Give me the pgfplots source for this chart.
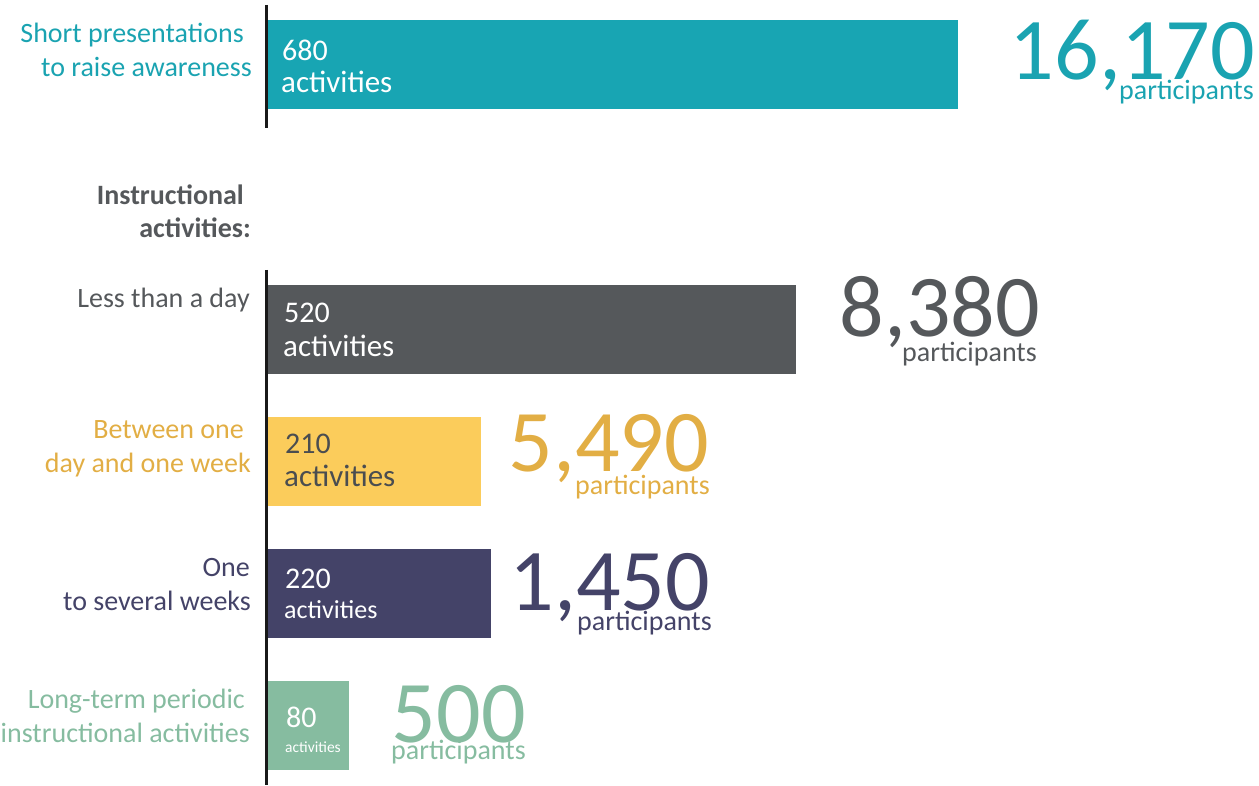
\documentclass[border=0pt]{standalone}
\usepackage{pgfplots}
\pgfplotsset{compat=1.18}
\usepackage{fontspec}
\setmainfont{Carlito}
\definecolor{cteal}{HTML}{18A5B3}
\definecolor{ctealtxt}{HTML}{1AA3B1}
\definecolor{cgray}{HTML}{55585B}
\definecolor{cyel}{HTML}{FBCC5B}
\definecolor{cyeltxt}{HTML}{E2AE44}
\definecolor{cnavy}{HTML}{444368}
\definecolor{csage}{HTML}{86BCA0}
\definecolor{cdark}{HTML}{4A4D50}
\newcommand{\lab}{\fontsize{28}{34}\selectfont}
\newcommand{\bignum}{\fontsize{88}{90}\selectfont}
\begin{document}
\begin{tikzpicture}
\useasboundingbox (0,0) rectangle (1259pt,785pt);
\begin{axis}[
  at={(0,0)}, anchor=south west,
  scale only axis, width=1259pt, height=785pt,
  xmin=-264.1, xmax=976.6,
  ymin=-0.491, ymax=5.449, y dir=reverse,
  axis lines=none, ticks=none, clip=false,
]
\addplot[xbar, bar shift=0pt, bar width=89pt, fill=cteal, draw=none] coordinates {(680,0)};
\addplot[xbar, bar shift=0pt, bar width=89pt, fill=cgray, draw=none] coordinates {(520,2)};
\addplot[xbar, bar shift=0pt, bar width=89pt, fill=cyel, draw=none] coordinates {(210,3)};
\addplot[xbar, bar shift=0pt, bar width=89pt, fill=cnavy, draw=none] coordinates {(220,4)};
\addplot[xbar, bar shift=0pt, bar width=89pt, fill=csage, draw=none] coordinates {(80,5)};
\end{axis}
\begin{scope}[x=1pt, y=-1pt, shift={(0pt,785pt)}]
% axis line segments
\draw[line width=2.6pt, color=black!90] (266.5,5) -- (266.5,128);
\draw[line width=2.6pt, color=black!90] (266.5,270) -- (266.5,785);
% category labels
\node[anchor=base east, inner sep=0, text=ctealtxt, font=\lab] at (244,43) {Short presentations};
\node[anchor=base east, inner sep=0, text=ctealtxt, font=\lab] at (252,77) {to raise awareness};
\node[anchor=base east, inner sep=0, text=cgray, font=\lab\bfseries] at (244,205) {Instructional};
\node[anchor=base east, inner sep=0, text=cgray, font=\lab\bfseries] at (251,238) {activities:};
\node[anchor=base east, inner sep=0, text=cgray, font=\lab] at (250,308) {Less than a day};
\node[anchor=base east, inner sep=0, text=cyeltxt, font=\lab] at (244,439) {Between one};
\node[anchor=base east, inner sep=0, text=cyeltxt, font=\lab] at (251,473) {day and one week};
\node[anchor=base east, inner sep=0, text=cnavy, font=\lab] at (250,577) {One};
\node[anchor=base east, inner sep=0, text=cnavy, font=\lab] at (251,611) {to several weeks};
\node[anchor=base east, inner sep=0, text=csage, font=\lab] at (245,709) {Long-term periodic};
\node[anchor=base east, inner sep=0, text=csage, font=\lab] at (250,743) {instructional activities};
% in-bar labels
\node[anchor=base west, inner sep=0, text=white, font=\fontsize{30}{32}\selectfont] at (282,61) {680};
\node[anchor=base west, inner sep=0, text=white, font=\fontsize{31}{32}\selectfont] at (281,93) {activities};
\node[anchor=base west, inner sep=0, text=white, font=\fontsize{30}{32}\selectfont] at (284,323) {520};
\node[anchor=base west, inner sep=0, text=white, font=\fontsize{31}{32}\selectfont] at (283,357) {activities};
\node[anchor=base west, inner sep=0, text=cdark, font=\fontsize{30}{32}\selectfont] at (285,454) {210};
\node[anchor=base west, inner sep=0, text=cdark, font=\fontsize{31}{32}\selectfont] at (284,487) {activities};
\node[anchor=base west, inner sep=0, text=white, font=\fontsize{30}{32}\selectfont] at (285,589) {220};
\node[anchor=base west, inner sep=0, text=white, font=\fontsize{26}{28}\selectfont] at (284,619) {activities};
\node[anchor=base west, inner sep=0, text=white, font=\fontsize{30}{32}\selectfont] at (286,728) {80};
\node[anchor=base west, inner sep=0, text=white, font=\fontsize{15.5}{17}\selectfont] at (285,752) {activities};
% participant numbers
\node[anchor=base east, inner sep=0, text=ctealtxt, font=\bignum] at (1255,80) {16,170};
\node[anchor=base east, inner sep=0, text=ctealtxt, font=\lab] at (1254,100) {participants};
\node[anchor=base east, inner sep=0, text=cgray, font=\bignum] at (1040,337) {8,380};
\node[anchor=base east, inner sep=0, text=cgray, font=\lab] at (1037,362) {participants};
\node[anchor=base east, inner sep=0, text=cyeltxt, font=\bignum] at (709,472) {5,490};
\node[anchor=base east, inner sep=0, text=cyeltxt, font=\lab] at (710,495) {participants};
\node[anchor=base east, inner sep=0, text=cnavy, font=\bignum] at (710,611) {1,450};
\node[anchor=base east, inner sep=0, text=cnavy, font=\lab] at (712,631) {participants};
\node[anchor=base east, inner sep=0, text=csage, font=\bignum] at (526,743) {500};
\node[anchor=base east, inner sep=0, text=csage, font=\lab] at (526,759) {participants};
\end{scope}
\end{tikzpicture}
\end{document}
